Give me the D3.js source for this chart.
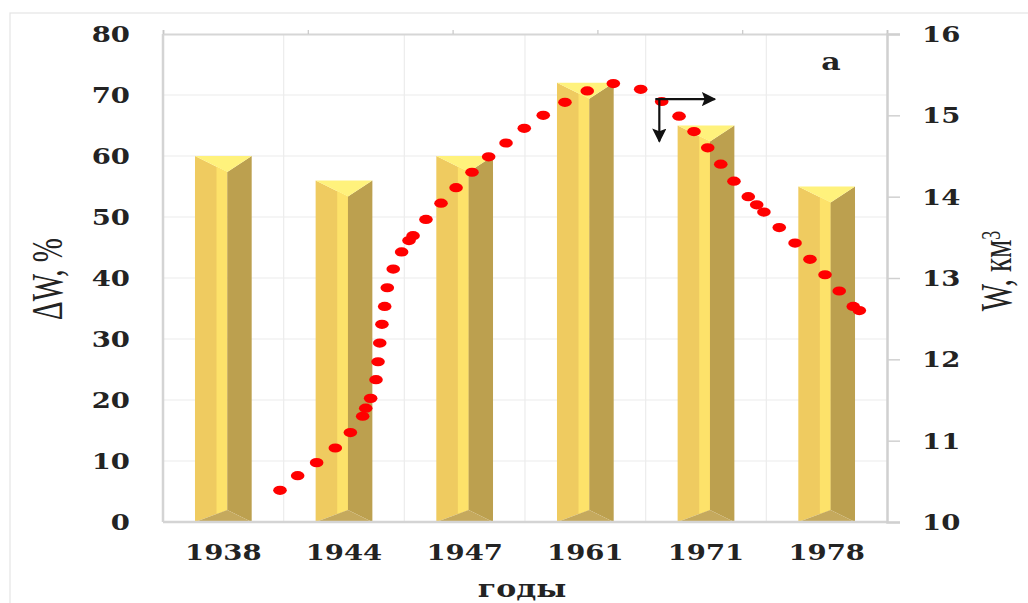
<!DOCTYPE html>
<html>
<head>
<meta charset="utf-8">
<script src="https://cdn.jsdelivr.net/npm/d3@7"></script>
<style>
  html, body { margin: 0; padding: 0; background: #fff; }
  svg { display: block; }
</style>
</head>
<body>
<svg id="chart" width="1028" height="603"></svg>
<script>
// Categories (years) and relative change of volume, %
const years = ["1938", "1944", "1947", "1961", "1971", "1978"];
const deltaW = [60, 56, 60, 72, 65, 55];

// Left and right axis ticks
const leftTicks = [0, 10, 20, 30, 40, 50, 60, 70, 80];
const rightTicks = [10, 11, 12, 13, 14, 15, 16];
const topTicks = [0, 10, 20, 30, 40, 50];

// Volume W, km3, along the secondary (top) time axis
const wTime = [8.08, 9.30, 10.61, 11.90, 12.94, 13.79, 14.00, 14.34, 14.71, 14.85,
  14.97, 15.12, 15.31, 15.49, 15.90, 16.48, 16.99, 17.27, 18.16, 19.20,
  20.24, 21.34, 22.49, 23.69, 24.95, 26.26, 27.76, 29.30, 31.10, 32.99,
  34.44, 35.64, 36.67, 37.62, 38.52, 39.43, 40.42, 41.00, 41.50, 42.56,
  43.65, 44.68, 45.72, 46.70, 47.67, 48.09];
const wValues = [10.39, 10.57, 10.73, 10.91, 11.10, 11.30, 11.40, 11.52, 11.75, 11.97,
  12.20, 12.43, 12.65, 12.88, 13.11, 13.32, 13.46, 13.52, 13.72, 13.92,
  14.11, 14.30, 14.49, 14.66, 14.84, 15.00, 15.16, 15.30, 15.39, 15.32,
  15.17, 14.99, 14.80, 14.60, 14.40, 14.19, 14.00, 13.90, 13.81, 13.62,
  13.43, 13.23, 13.04, 12.84, 12.65, 12.60];

// Axis-pointer arrows: start point and ends, in (time, W) units
const arrowStart = [34.0, 15.2];
const arrowEndX = 38.1;
const arrowEndW = 14.68;

const svg = d3.select("#chart");
const L = 163, R = 887, T = 34, B = 522;

const x = d3.scaleBand().domain(years).range([L, R]).paddingInner(0.53).paddingOuter(0.265);
const xt = d3.scaleLinear().domain([0, 50]).range([L, R]);
const yL = d3.scaleLinear().domain([0, 80]).range([B, T]);
const yR = d3.scaleLinear().domain([10, 16]).range([B, T]);

const serifBold = "'DejaVu Serif', serif";
const serifReg = "'Liberation Serif', 'Times New Roman', serif";
const SX = 1.25;

// outer chart frame
svg.append("rect").attr("x", 10).attr("y", 13).attr("width", 1040).attr("height", 620)
  .attr("fill", "none").attr("stroke", "#e4e4e4").attr("stroke-width", 1.2);

// grid
const grid = svg.append("g");
grid.selectAll("line.h").data(leftTicks.filter(d => d > 0 && d < 80)).join("line")
  .attr("x1", L).attr("x2", R).attr("y1", d => yL(d)).attr("y2", d => yL(d))
  .attr("stroke", "#ececec").attr("stroke-width", 1.2);
const step = x.step();
grid.selectAll("line.v").data(d3.range(1, years.length)).join("line")
  .attr("x1", d => L + d * step).attr("x2", d => L + d * step)
  .attr("y1", T).attr("y2", B)
  .attr("stroke", "#ececec").attr("stroke-width", 1.2);

// top (secondary) axis
const topAxis = svg.append("g").attr("transform", `translate(0,${T})`)
  .call(d3.axisTop(xt).tickValues(topTicks).tickSize(4).tickFormat(""));
topAxis.select(".domain").attr("stroke", "#d6d6d6").attr("stroke-width", 2);
topAxis.selectAll(".tick line").attr("stroke", "#c8c8c8").attr("stroke-width", 1.2);

// bars drawn as bevelled prisms
const bw = x.bandwidth();
const dt = 16, db = 12;
const bars = svg.append("g").selectAll("g").data(years.map((y, i) => ({ y, v: deltaW[i] }))).join("g");
bars.each(function (d) {
  const g = d3.select(this);
  const x0 = x(d.y), x1 = x0 + bw;
  const xr = x0 + bw * 0.57, xs = x0 + bw * 0.38;
  const yt = yL(d.v), yb = yL(0);
  const fs = (xs - x0) / (xr - x0);
  const poly = (pts, fill) => g.append("polygon").attr("points", pts.map(p => p.join(",")).join(" ")).attr("fill", fill);
  poly([[x0, yt], [xr, yt + dt], [xr, yb - db], [x0, yb]], "#efcb60");
  poly([[xs, yt + dt * fs], [xr, yt + dt], [xr, yb - db], [xs, yb - db * fs]], "#fde26a");
  poly([[xr, yt + dt], [x1, yt], [x1, yb], [xr, yb - db]], "#bca04f");
  poly([[x0, yt], [x1, yt], [xr, yt + dt]], "#fff27c");
  poly([[x0, yb], [xr, yb - db], [x1, yb]], "#c5a95d");
});

// left and bottom axis lines
svg.append("line").attr("x1", L).attr("x2", L).attr("y1", T).attr("y2", B)
  .attr("stroke", "#d4d4d4").attr("stroke-width", 2.5);
svg.append("line").attr("x1", L).attr("x2", R).attr("y1", B).attr("y2", B)
  .attr("stroke", "#d4d4d4").attr("stroke-width", 2.5);

// right axis
const rightAxis = svg.append("g").attr("transform", `translate(${R},0)`)
  .call(d3.axisRight(yR).tickValues(rightTicks).tickSize(13).tickFormat(""));
rightAxis.select(".domain").attr("stroke", "#d0d0d0").attr("stroke-width", 2.5);
rightAxis.selectAll(".tick line").attr("stroke", "#d0d0d0").attr("stroke-width", 1.5);

// stretched serif text helper
function label(g, text, tx, ty, anchor, size, weight, family) {
  return g.append("text")
    .attr("transform", `translate(${tx},${ty}) scale(${SX},1)`)
    .attr("text-anchor", anchor)
    .attr("font-family", family || serifBold)
    .attr("font-weight", weight || "bold")
    .attr("font-size", size)
    .attr("fill", "#232323")
    .text(text);
}

const labels = svg.append("g");
leftTicks.forEach(v => label(labels, String(v), 130, yL(v) + 8, "end", 22));
rightTicks.forEach(v => label(labels, String(v), 922, yR(v) + 8, "start", 22));
years.forEach(y => label(labels, y, x(y) + bw / 2, 560, "middle", 22));
label(labels, "годы", (L + R) / 2 - 3, 597, "middle", 24);
label(labels, "а", 831, 70, "middle", 24);

// rotated axis titles
svg.append("text")
  .attr("transform", "translate(62,279) rotate(-90) scale(1,1.55)")
  .attr("text-anchor", "middle")
  .attr("font-family", serifReg).attr("font-size", 29).attr("fill", "#232323")
  .text("ΔW, %");
const rt = svg.append("text")
  .attr("transform", "translate(1011,271) rotate(-90) scale(1,1.55)")
  .attr("text-anchor", "middle")
  .attr("font-family", serifReg).attr("font-size", 29).attr("fill", "#232323");
rt.append("tspan").text("W, км");
rt.append("tspan").attr("font-size", 18).attr("dy", -7).text("3");

// W series as red dots on the right axis
svg.append("g").selectAll("ellipse").data(wTime.map((t, i) => ({ t, w: wValues[i] }))).join("ellipse")
  .attr("cx", d => xt(d.t)).attr("cy", d => yR(d.w))
  .attr("rx", 6.8).attr("ry", 4.6)
  .attr("fill", "#ff0000");

// arrows pointing to the right axis
const defs = svg.append("defs");
defs.append("marker").attr("id", "head").attr("viewBox", "0 0 10 10")
  .attr("refX", 9).attr("refY", 5).attr("markerWidth", 6.5).attr("markerHeight", 6.5)
  .attr("markerUnits", "strokeWidth").attr("orient", "auto")
  .append("path").attr("d", "M0,0 L10,5 L0,10 L2,5 Z").attr("fill", "#111");
const ax0 = xt(arrowStart[0]), ay0 = yR(arrowStart[1]);
svg.append("line").attr("x1", ax0).attr("y1", ay0).attr("x2", xt(arrowEndX)).attr("y2", ay0)
  .attr("stroke", "#111").attr("stroke-width", 2.2).attr("marker-end", "url(#head)");
svg.append("line").attr("x1", ax0 + 4).attr("y1", ay0).attr("x2", ax0 + 4).attr("y2", yR(arrowEndW))
  .attr("stroke", "#111").attr("stroke-width", 2.2).attr("marker-end", "url(#head)");
</script>
</body>
</html>
